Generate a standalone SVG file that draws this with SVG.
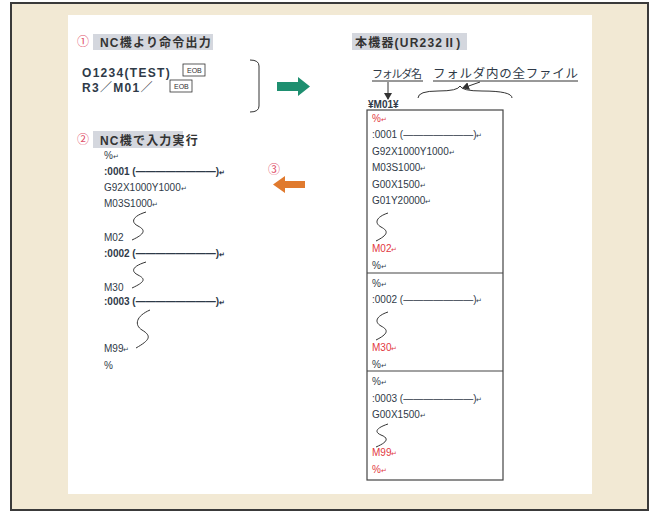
<svg xmlns="http://www.w3.org/2000/svg" width="654" height="512" viewBox="0 0 654 512">
<defs>
<style>
text{font-family:"Liberation Sans","Noto Sans CJK JP",sans-serif;}
.code{font-size:10px;fill:#2f3a48;}
.bold{font-weight:bold;}
.red{fill:#e2383f;}
.head{font-size:12px;fill:#333;font-weight:bold;letter-spacing:1.2px;}
.hl{fill:#d4d7de;}
.num{font-size:12px;fill:#e0506a;font-family:"Noto Sans CJK JP",sans-serif;}
.ret{font-size:7px;}
.s{fill:none;stroke:#333;stroke-width:1;}
.eob{fill:#fff;stroke:#333;stroke-width:0.8;}
.eobt{font-size:7px;fill:#333;}
.big{font-size:12px;fill:#2f3a48;font-weight:bold;letter-spacing:1.3px;}
.ln{stroke:#333;stroke-width:1;fill:none;}
.fold{font-size:11px;fill:#2f3a48;}
</style>
<marker id="ah" markerWidth="8" markerHeight="8" refX="6" refY="4" orient="auto" markerUnits="userSpaceOnUse">
<path d="M0,0 L7,4 L0,8 z" fill="#333"/>
</marker>
</defs>
<rect x="11" y="3" width="637" height="507" fill="#f2e9d4" stroke="#3a3a3a" stroke-width="2"/>
<rect x="68" y="15" width="524" height="479" fill="#ffffff"/>

<g id="step1">
<text class="num" x="77" y="46">①</text>
<rect class="hl" x="93" y="34" width="120" height="16"/>
<text class="head" x="100" y="47">NC機より命令出力</text>
<text class="big" x="82" y="77">O1234(TEST)</text>
<rect class="eob" x="183" y="64" width="22" height="12"/>
<text class="eobt" x="187" y="73">EOB</text>
<text class="big" x="82" y="92">R3／M01／</text>
<rect class="eob" x="170" y="80" width="22" height="12"/>
<text class="eobt" x="174" y="89">EOB</text>
</g>

<g id="bracket">
<path class="ln" d="M250,60 Q259,60 259,66 L259,106 Q259,112 250,112" stroke="#555"/>
</g>

<g id="step2">
<text class="num" x="77" y="144">②</text>
<rect class="hl" x="93" y="131" width="90" height="17"/>
<text class="head" x="100" y="145">NC機で入力実行</text>
<text class="code" x="104" y="159">%<tspan class="ret">↵</tspan></text>
<text class="code bold" x="104" y="175">:0001 (————————)<tspan class="ret">↵</tspan></text>
<text class="code" x="104" y="191">G92X1000Y1000<tspan class="ret">↵</tspan></text>
<text class="code" x="104" y="207">M03S1000<tspan class="ret">↵</tspan></text>
<path class="s" d="M146,212 C133,216 130,222 138,226 C146,230 145,234 132,240"/>
<text class="code" x="104" y="241">M02</text>
<text class="code bold" x="104" y="257">:0002 (————————)<tspan class="ret">↵</tspan></text>
<path class="s" d="M146,262 C133,266 130,271 138,275 C146,279 145,282 132,288"/>
<text class="code" x="104" y="291">M30</text>
<text class="code bold" x="104" y="305">:0003 (————————)<tspan class="ret">↵</tspan></text>
<path class="s" d="M150,310 C136,316 134,325 142,330 C152,336 150,340 136,348"/>
<text class="code" x="104" y="352">M99<tspan class="ret">↵</tspan></text>
<text class="code" x="104" y="369">%</text>
</g>

<g id="step3">
<text class="num" x="268" y="174">③</text>
</g>

<g id="device">
<rect class="hl" x="352" y="33" width="115" height="17"/>
<text class="head" x="355" y="47">本機器(UR232Ⅱ)</text>
<text class="fold" x="372" y="78" textLength="50">フォルダ名</text>
<line class="ln" x1="372" y1="81" x2="423" y2="81"/>
<text class="fold" x="433" y="78" style="font-size:12.5px" textLength="145">フォルダ内の全ファイル</text>
<line class="ln" x1="433" y1="81" x2="578" y2="81"/>
<text class="code bold" x="368" y="108">¥M01¥</text>
</g>

<g id="folder">
<rect x="367" y="110" width="136" height="370" fill="#fff" stroke="#444" stroke-width="1.2"/>
<line x1="367" y1="273" x2="503" y2="273" stroke="#444" stroke-width="1.2"/>
<line x1="367" y1="371" x2="503" y2="371" stroke="#444" stroke-width="1.2"/>
<text class="code red" x="372" y="122">%<tspan class="ret">↵</tspan></text>
<text class="code" x="372" y="138">:0001 (———————)<tspan class="ret">↵</tspan></text>
<text class="code" x="372" y="155">G92X1000Y1000<tspan class="ret">↵</tspan></text>
<text class="code" x="372" y="171">M03S1000<tspan class="ret">↵</tspan></text>
<text class="code" x="372" y="188">G00X1500<tspan class="ret">↵</tspan></text>
<text class="code" x="372" y="204">G01Y20000<tspan class="ret">↵</tspan></text>
<path class="s" d="M388,213 C376,217 374,223 381,227 C389,231 388,235 376,241"/>
<text class="code red" x="372" y="252">M02<tspan class="ret">↵</tspan></text>
<text class="code" x="372" y="269">%<tspan class="ret">↵</tspan></text>
<text class="code" x="372" y="287">%<tspan class="ret">↵</tspan></text>
<text class="code" x="372" y="303">:0002 (———————)<tspan class="ret">↵</tspan></text>
<path class="s" d="M388,312 C376,316 374,322 381,326 C389,330 388,334 376,340"/>
<text class="code red" x="372" y="351">M30<tspan class="ret">↵</tspan></text>
<text class="code" x="372" y="368">%<tspan class="ret">↵</tspan></text>
<text class="code" x="372" y="385">%<tspan class="ret">↵</tspan></text>
<text class="code" x="372" y="402">:0003 (———————)<tspan class="ret">↵</tspan></text>
<text class="code" x="372" y="418">G00X1500<tspan class="ret">↵</tspan></text>
<path class="s" d="M388,424 C376,428 374,432 381,435 C389,438 388,442 376,447"/>
<text class="code red" x="372" y="456">M99<tspan class="ret">↵</tspan></text>
<text class="code red" x="372" y="473">%<tspan class="ret">↵</tspan></text>
</g>

<g id="connectors">
<polygon points="277,82 298,82 298,77 310,86.5 298,96 298,91 277,91" fill="#1e8f70"/>
<polygon points="305,181 285,181 285,176 273,184.5 285,193 285,188 305,188" fill="#e07a2e"/>
<line class="ln" x1="388" y1="82" x2="388" y2="99" marker-end="url(#ah)"/>
<path class="ln" d="M418,98 Q418,91 438,91 Q458,91 460,86 Q462,91 482,91 Q512,91 512,98"/>
<line class="ln" x1="480" y1="82" x2="463" y2="88" marker-end="url(#ah)"/>
</g>
</svg>
